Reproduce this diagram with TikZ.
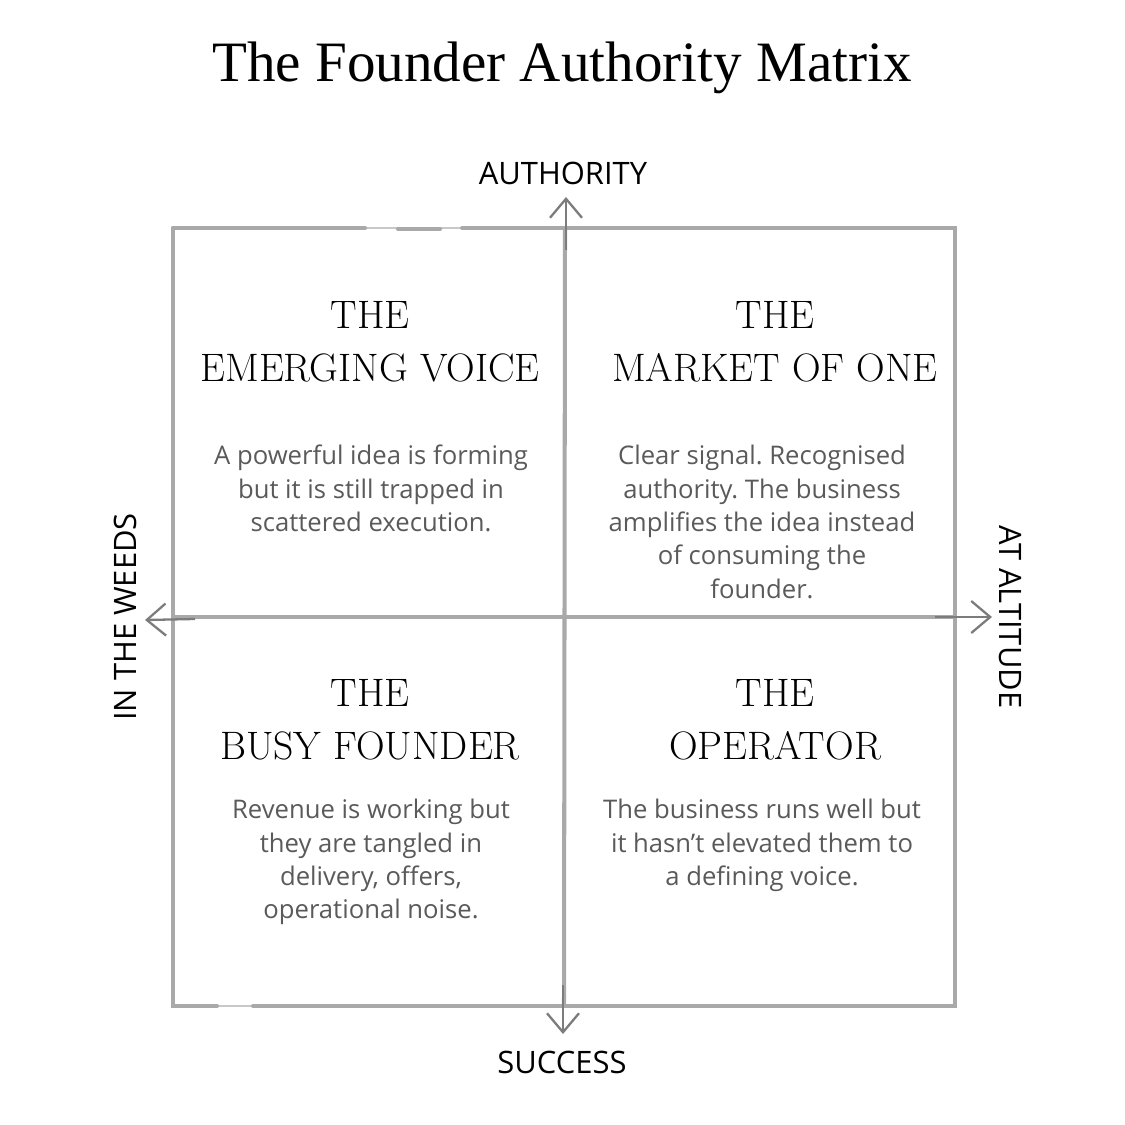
\documentclass[tikz,border=0pt]{standalone}
\usepackage{fontspec}
\usetikzlibrary{arrows.meta}
\newfontfamily\titlefont{Liberation Serif}
\newfontfamily\bodyfont{Open Sans}
\definecolor{gridgray}{HTML}{A9A9A9}
\definecolor{faintgray}{HTML}{C8C8C8}
\definecolor{arrowgray}{HTML}{7C7C7C}
\definecolor{bodygray}{HTML}{5A5A5A}
\tikzset{
  gridline/.style={draw=gridgray, line width=2.3pt, line cap=round},
  faintline/.style={draw=faintgray, line width=0.9pt},
  axisarrow/.style={draw=arrowgray, line width=1.3pt, -{Straight Barb[length=3.8mm,width=6.4mm,line width=1.3pt]}},
  heading/.style={align=center, font=\fontsize{22.6}{30}\selectfont, text=black, inner sep=0pt},
  bodytext/.style={align=center, font=\bodyfont\fontsize{14.6}{19}\selectfont, text=bodygray, inner sep=0pt},
  axislabel/.style={font=\bodyfont\fontsize{17.6}{20}\selectfont, text=black, inner sep=0pt},
}
\begin{document}
\frenchspacing
\begin{tikzpicture}[x=0.02cm, y=-0.02cm]
\useasboundingbox[fill=white] (0,0) rectangle (1125,1125);
% grid coordinates
\coordinate (tl) at (173,228);
\coordinate (tr) at (955,228);
\coordinate (bl) at (173,1006);
\coordinate (br) at (955,1006);
\coordinate (tm) at (565,228);
\coordinate (bm) at (564,1006);
\coordinate (ml) at (173,617);
\coordinate (mr) at (955,617);
% faint strokes through the hand-drawn gaps
\draw[faintline] (365,228) -- (462,228);
\draw[faintline] (217,1006) -- (253,1006);
% outer frame (hand-drawn gaps)
\draw[gridline] (173,228) -- (365,228);
\draw[gridline] (398,229) -- (440,229);
\draw[gridline] (462,228) -- (tr) -- (br) -- (253,1006);
\draw[gridline] (217,1006) -- (bl) -- (tl);
% inner cross
\draw[gridline] (tm) -- (bm);
\draw[gridline] (ml) -- (mr);
% axis arrows
\coordinate (upA) at (566,250);  \coordinate (upB) at (566,197);
\coordinate (dnA) at (563,985);  \coordinate (dnB) at (563,1034);
\coordinate (lfA) at (195,619);  \coordinate (lfB) at (145,620);
\coordinate (rtA) at (935,617);  \coordinate (rtB) at (992,617);
\draw[axisarrow] (upA) -- (upB);
\draw[axisarrow] (dnA) -- (dnB);
\draw[axisarrow] (lfA) -- (lfB);
\draw[axisarrow] (rtA) -- (rtB);
% title
\node[font=\titlefont\fontsize{32.5}{38}\selectfont, inner sep=0pt] (title) at (562,68) {The Founder Authority Matrix};
% axis labels
\node[axislabel] (authority) at (563,173) {AUTHORITY};
\node[axislabel] (success) at (562,1062) {SUCCESS};
\node[axislabel, rotate=90] (weeds) at (125,617) {IN THE WEEDS};
\node[axislabel, rotate=-90] (altitude) at (1010,617) {AT ALTITUDE};
% quadrant headings
\node[heading] (h1) at (370,342) {THE\\EMERGING VOICE};
\node[heading] (h2) at (775,342) {THE\\MARKET OF ONE};
\node[heading] (h3) at (370,720) {THE\\BUSY FOUNDER};
\node[heading] (h4) at (775,720) {THE\\OPERATOR};
% quadrant body texts
\node[bodytext, anchor=north] (b1) at (371,445) {A powerful idea is forming\\but it is still trapped in\\scattered execution.};
\node[bodytext, anchor=north] (b2) at (762,445) {Clear signal. Recognised\\authority. The business\\amplifies the idea instead\\of consuming the\\founder.};
\node[bodytext, anchor=north] (b3) at (371,799) {Revenue is working but\\they are tangled in\\delivery, offers,\\operational noise.};
\node[bodytext, anchor=north] (b4) at (762,799) {The business runs well but\\it hasn’t elevated them to\\a defining voice.};
\end{tikzpicture}
\end{document}
